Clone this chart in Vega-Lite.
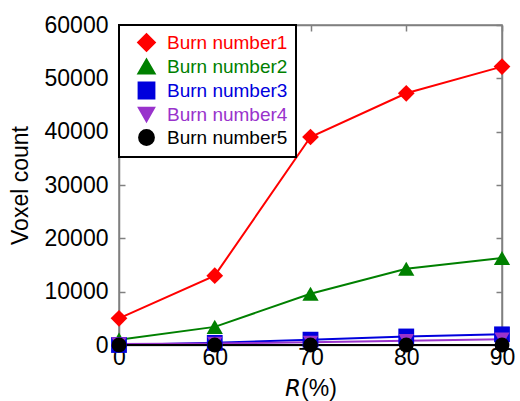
{
  "$schema": "https://vega.github.io/schema/vega-lite/v6.json",
  "autosize": "none",
  "width": 383,
  "height": 320,
  "padding": {"left": 119, "top": 25, "right": 18, "bottom": 56},
  "background": "white",
  "config": {
    "font": "Liberation Sans",
    "view": {"stroke": "#808080", "strokeWidth": 1.5},
    "axis": {"grid": false, "domainColor": "#808080", "domainWidth": 1.5, "tickColor": "#808080", "tickWidth": 1.5, "tickSize": -6, "labelFontSize": 23, "labelColor": "black", "titleFontSize": 23, "titleFontWeight": "normal", "titleColor": "black", "labelFont": "Liberation Sans", "titleFont": "Liberation Sans"},
    "legend": {
      "title": null,
      "orient": "top-left",
      "offset": 0,
      "padding": 8,
      "strokeColor": "black",
      "fillColor": "white",
      "labelFontSize": 19,
      "labelFont": "Liberation Sans",
      "rowPadding": 0,
      "symbolSize": 256,
      "symbolOffset": 10,
      "labelOffset": 11,
      "symbolStrokeWidth": 2
    }
  },
  "data": {"values": [
    {"R": 0, "series": "Burn number1", "count": 5000},
    {"R": 60, "series": "Burn number1", "count": 13000},
    {"R": 70, "series": "Burn number1", "count": 39000},
    {"R": 80, "series": "Burn number1", "count": 47200},
    {"R": 90, "series": "Burn number1", "count": 52200},
    {"R": 0, "series": "Burn number2", "count": 1000},
    {"R": 60, "series": "Burn number2", "count": 3400},
    {"R": 70, "series": "Burn number2", "count": 9600},
    {"R": 80, "series": "Burn number2", "count": 14300},
    {"R": 90, "series": "Burn number2", "count": 16300},
    {"R": 0, "series": "Burn number3", "count": 0},
    {"R": 60, "series": "Burn number3", "count": 400},
    {"R": 70, "series": "Burn number3", "count": 1000},
    {"R": 80, "series": "Burn number3", "count": 1600},
    {"R": 90, "series": "Burn number3", "count": 2000},
    {"R": 0, "series": "Burn number4", "count": 200},
    {"R": 60, "series": "Burn number4", "count": 300},
    {"R": 70, "series": "Burn number4", "count": 500},
    {"R": 80, "series": "Burn number4", "count": 800},
    {"R": 90, "series": "Burn number4", "count": 1100},
    {"R": 0, "series": "Burn number5", "count": 0},
    {"R": 60, "series": "Burn number5", "count": 0},
    {"R": 70, "series": "Burn number5", "count": 0},
    {"R": 80, "series": "Burn number5", "count": 0},
    {"R": 90, "series": "Burn number5", "count": 0}
  ]},
  "resolve": {"scale": {"x": "independent", "y": "independent"}, "axis": {"x": "independent", "y": "independent"}},
  "layer": [
    {
      "mark": {"type": "line", "strokeWidth": 2},
      "encoding": {
        "x": {"field": "R", "type": "ordinal", "scale": {"type": "point", "padding": 0, "domain": [0, 60, 70, 80, 90]}, "axis": {"orient": "bottom", "labelAngle": 0, "labelPadding": 7, "title": "𝘙(%)", "titlePadding": 8}},
        "y": {"field": "count", "type": "quantitative", "scale": {"domain": [0, 60000]}, "axis": {"orient": "left", "values": [0, 10000, 20000, 30000, 40000, 50000, 60000], "format": "d", "labelPadding": 17, "title": "Voxel count", "titlePadding": 12}},
        "color": {"field": "series", "type": "nominal", "scale": {"domain": ["Burn number1", "Burn number2", "Burn number3", "Burn number4", "Burn number5"], "range": ["#ff0000", "#008000", "#0000dd", "#9933cc", "#000000"]},
          "legend": {
            "encode": {
              "legend": {"update": {"stroke": {"value": "black"}, "strokeWidth": {"value": 2}}},
              "labels": {"update": {"fill": {"signal": "scale('color', datum.value)"}}}
            }
          }
        },
        "detail": {"field": "series"}
      }
    },
    {
      "mark": {"type": "point", "filled": true, "opacity": 1},
      "encoding": {
        "x": {"field": "R", "type": "ordinal", "scale": {"type": "point", "padding": 0, "domain": [0, 60, 70, 80, 90]}, "axis": {"orient": "top", "labels": false, "title": null}},
        "y": {"field": "count", "type": "quantitative", "scale": {"domain": [0, 60000]}, "axis": {"orient": "right", "labels": false, "title": null, "values": [0, 10000, 20000, 30000, 40000, 50000, 60000]}},
        "color": {"field": "series", "type": "nominal", "scale": {"domain": ["Burn number1", "Burn number2", "Burn number3", "Burn number4", "Burn number5"], "range": ["#ff0000", "#008000", "#0000dd", "#9933cc", "#000000"]},
          "legend": {
            "encode": {
              "legend": {"update": {"stroke": {"value": "black"}, "strokeWidth": {"value": 2}}},
              "labels": {"update": {"fill": {"signal": "scale('color', datum.value)"}}}
            }
          }
        },
        "shape": {"field": "series", "type": "nominal", "scale": {"domain": ["Burn number1", "Burn number2", "Burn number3", "Burn number4", "Burn number5"], "range": ["diamond", "triangle-up", "square", "triangle-down", "circle"]}, "legend": null},
        "size": {"field": "series", "type": "nominal", "scale": {"domain": ["Burn number1", "Burn number2", "Burn number3", "Burn number4", "Burn number5"], "range": [280, 220, 180, 200, 180]}, "legend": null}
      }
    }
  ]
}
